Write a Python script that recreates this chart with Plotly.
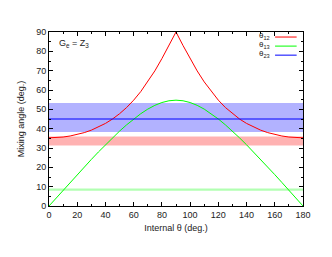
import plotly.graph_objects as go

theta = [0, 5, 10, 15, 20, 25, 30, 35, 40, 45, 50, 55, 60, 65, 70, 75, 80, 85, 90,
         95, 100, 105, 110, 115, 120, 125, 130, 135, 140, 145, 150, 155, 160, 165, 170, 175, 180]
theta12 = [35.26, 35.37, 35.68, 36.21, 36.96, 37.96, 39.23, 40.80, 42.71, 45.00, 47.73, 50.95,
           54.74, 59.15, 64.19, 69.88, 76.22, 82.97, 90.0,
           82.97, 76.22, 69.88, 64.19, 59.15, 54.74, 50.95, 47.73, 45.00, 42.71, 40.80, 39.23,
           37.96, 36.96, 36.21, 35.68, 35.37, 35.26]
theta13 = [0.0, 4.08, 8.15, 12.20, 16.22, 20.19, 24.09, 27.93, 31.66, 35.26, 38.72, 41.98,
           45.00, 47.73, 50.11, 52.06, 53.52, 54.43, 54.74,
           54.43, 53.52, 52.06, 50.11, 47.73, 45.00, 41.98, 38.72, 35.26, 31.66, 27.93, 24.09,
           20.19, 16.22, 12.20, 8.15, 4.08, 0.0]
theta23 = 45.0
band12 = [31.3, 35.9]
band13 = [7.85, 9.1]
band23 = [38.3, 53.3]
x_range = [0, 180]
y_range = [0, 90]

fig = go.Figure()

# bands
for band, col in [(band23, "rgba(0,0,255,0.3)"), (band12, "rgba(255,0,0,0.3)"), (band13, "rgba(0,255,0,0.3)")]:
    fig.add_shape(type="rect", xref="x", yref="y", x0=x_range[0], x1=x_range[1], y0=band[0], y1=band[1],
                  fillcolor=col, line_width=0, layer="below")

fig.add_trace(go.Scatter(x=theta, y=theta12, mode="lines", line=dict(color="#ff0000", width=1), name="θ12"))
fig.add_trace(go.Scatter(x=theta, y=theta13, mode="lines", line=dict(color="#00ff00", width=1), name="θ13"))
fig.add_trace(go.Scatter(x=x_range, y=[theta23, theta23], mode="lines", line=dict(color="#0000ff", width=1), name="θ23"))

# gnuplot style legend (text then line sample)
leg = [("θ<sub>12</sub>", "#ff0000"), ("θ<sub>13</sub>", "#00ff00"), ("θ<sub>23</sub>", "#0000ff")]
for i, (txt, col) in enumerate(leg):
    yl = 0.971 - i * 0.052
    fig.add_annotation(xref="paper", yref="paper", x=0.877, y=yl + 0.004, text=txt, showarrow=False,
                       xanchor="right", yanchor="middle", font=dict(size=8, color="#222"))
    fig.add_shape(type="line", xref="paper", yref="paper", x0=0.89, x1=0.975, y0=yl, y1=yl,
                  line=dict(color=col, width=1))

fig.add_annotation(xref="paper", yref="paper", x=0.03, y=0.935, text="G<sub>e</sub> = Z<sub>3</sub>",
                   showarrow=False, xanchor="left", yanchor="middle", font=dict(size=9, color="#222"))

axis_common = dict(showgrid=False, zeroline=False, ticks="inside", ticklen=4, tickwidth=1, tickcolor="#000",
                   showline=True, linecolor="#000", linewidth=1, mirror="ticks", automargin=False,
                   tickfont=dict(size=9, color="#222"))
fig.update_xaxes(range=x_range, dtick=20, title=dict(text="Internal θ (deg.)", font=dict(size=9, color="#222"), standoff=5),
                 minor=dict(dtick=10, ticks="inside", ticklen=2, tickcolor="#000"), **axis_common)
fig.update_yaxes(range=y_range, dtick=10, title=dict(text="Mixing angle (deg.)", font=dict(size=9, color="#222"), standoff=10),
                 minor=dict(dtick=5, ticks="inside", ticklen=2, tickcolor="#000"), **axis_common)

fig.update_layout(width=332, height=257, margin=dict(l=41, r=37, t=24, b=59),
                  plot_bgcolor="white", paper_bgcolor="white", showlegend=False,
                  font=dict(family="Liberation Sans, Arial, sans-serif"))

fig.write_html("out.html")
